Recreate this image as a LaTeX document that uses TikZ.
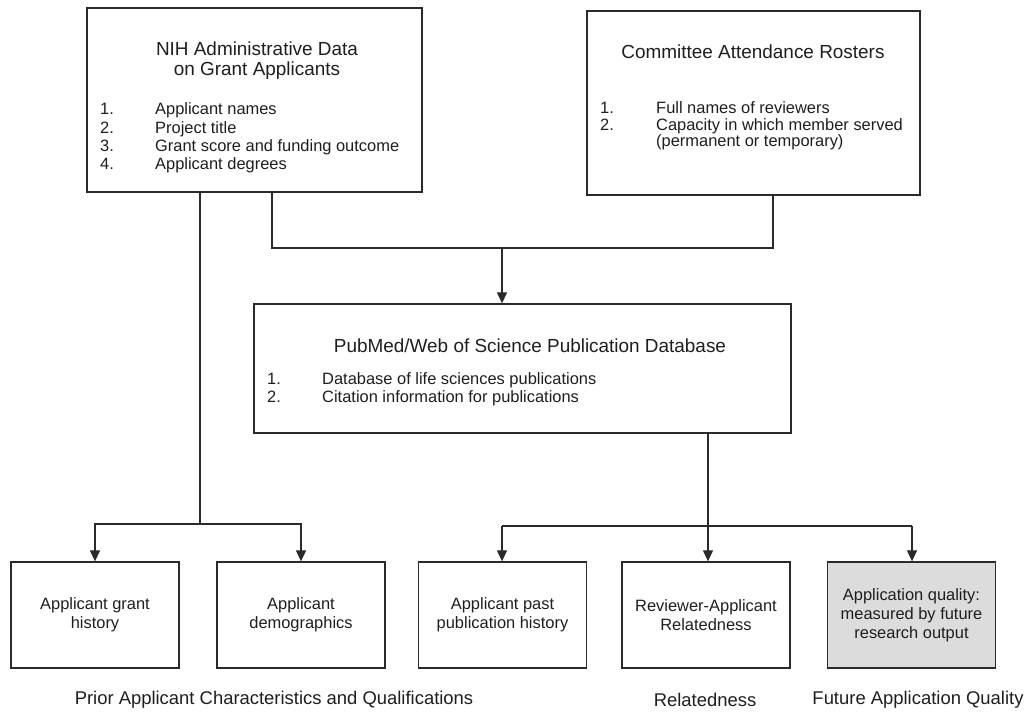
\documentclass[tikz,border=0pt]{standalone}
\usepackage{fontspec}
\setmainfont{Liberation Sans}
\usetikzlibrary{arrows.meta}
\definecolor{linec}{HTML}{2A2A2A}
\definecolor{txtc}{HTML}{1E1E1E}
\definecolor{fillq}{HTML}{DCDCDC}
\tikzset{
  boxnode/.style={draw=linec, line width=1.3bp, inner sep=0pt, rectangle},
  smallbox/.style={boxnode, minimum width=168bp, minimum height=106bp, align=center,
    text=txtc, font=\fontsize{16.5}{19}\selectfont},
  ttl/.style={text=txtc, inner sep=0pt, align=center, font=\fontsize{19}{22}\selectfont},
  itm/.style={text=txtc, inner sep=0pt, anchor=base west, font=\fontsize{16.5}{18}\selectfont},
  lbl/.style={text=txtc, inner sep=0pt, font=\fontsize{18.5}{22}\selectfont},
  conn/.style={draw=linec, line width=1.2bp},
  arr/.style={conn, -{Triangle[length=11bp,width=10bp]}}
}
\begin{document}
\begin{tikzpicture}[x=1bp,y=-1bp]
\useasboundingbox (0,0) rectangle (1031,714);
% top boxes
\node[boxnode, minimum width=335bp, minimum height=184bp] (nih) at (254.5,100) {};
\node[boxnode, minimum width=333bp, minimum height=184bp] (cmt) at (753.5,103) {};
\node[boxnode, minimum width=537bp, minimum height=129bp] (pub) at (522.5,368.5) {};
% box 1 text
\node[ttl] (nihT1) at (257,49) {NIH Administrative Data};
\node[ttl] (nihT2) at (257,71) {on Grant Applicants};
\node[itm] (n1) at (100,115) {1.};
\node[itm] (n2) at (100,134) {2.};
\node[itm] (n3) at (100,152) {3.};
\node[itm] (n4) at (100,170) {4.};
\node[itm] (i1) at (155,115) {Applicant names};
\node[itm] (i2) at (155,134) {Project title};
\node[itm] (i3) at (155,152) {Grant score and funding outcome};
\node[itm] (i4) at (155,170) {Applicant degrees};
% box 2 text
\node[ttl] (cmtT) at (753,52) {Committee Attendance Rosters};
\node[itm] (c1n) at (600,114) {1.};
\node[itm] (c2n) at (600,131) {2.};
\node[itm] (c1) at (656,114) {Full names of reviewers};
\node[itm] (c2) at (656,131) {Capacity in which member served};
\node[itm] (c3) at (656,147) {(permanent or temporary)};
% box 3 text
\node[ttl] (pubT) at (530,346) {PubMed/Web of Science Publication Database};
\node[itm] (p1n) at (267,384) {1.};
\node[itm] (p2n) at (267,402) {2.};
\node[itm] (p1) at (322,384) {Database of life sciences publications};
\node[itm] (p2) at (322,402) {Citation information for publications};
% bottom boxes
\node[smallbox] (agh) at (95,615) {Applicant grant\\history};
\node[smallbox] (adm) at (301,615) {Applicant\\demographics};
\node[smallbox] (aph) at (502.5,615) {Applicant past\\publication history};
\node[smallbox] (rar) at (706,615) {Reviewer-Applicant\\Relatedness};
\node[smallbox, fill=fillq] (aq) at (911.5,615) {Application quality:\\measured by future\\research output};
% bottom labels
\node[lbl] (L1) at (274,700) {Prior Applicant Characteristics and Qualifications};
\node[lbl] (L2) at (705,700) {Relatedness};
\node[lbl] (L3) at (918,700) {Future Application Quality};
% connector coordinates
\coordinate (t1) at (200,524);
\coordinate (m1) at (272,248);
\coordinate (m2) at (773,248);
\coordinate (m3) at (502,248);
\coordinate (r1) at (708,526);
\coordinate (r2) at (502,526);
\coordinate (r3) at (912,526);
% left trunk
\draw[conn] (t1 |- nih.south) -- (t1);
\draw[arr] (t1) -| (agh.north);
\draw[arr] (t1) -| (adm.north);
% merge from box 1 and box 2
\draw[conn] (m1 |- nih.south) -- (m1) -- (m2) -- (m2 |- cmt.south);
\draw[arr] (m3) -- (m3 |- pub.north);
% from pubmed
\draw[arr] (r1 |- pub.south) -- (r1 |- rar.north);
\draw[conn] (r2) -- (r3);
\draw[arr] (r2) -- (r2 |- aph.north);
\draw[arr] (r3) -- (r3 |- aq.north);
\end{tikzpicture}
\end{document}
